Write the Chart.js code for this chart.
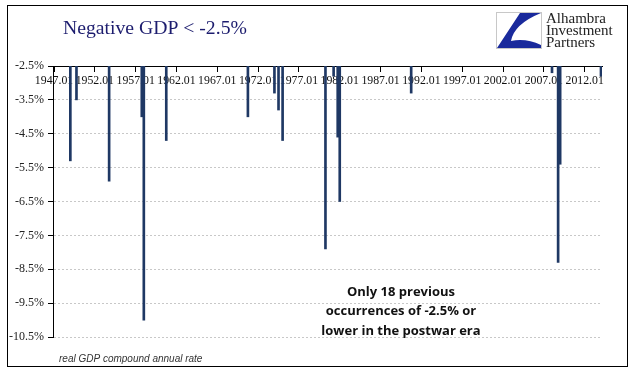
<!DOCTYPE html>
<html>
<head>
<meta charset="utf-8">
<script src="https://cdn.jsdelivr.net/npm/chart.js@4.4.0/dist/chart.umd.min.js"></script>
<style>
  html, body { margin: 0; padding: 0; background: #fff; }
  canvas { display: block; }
</style>
</head>
<body>
<canvas id="gdp" width="640" height="374"></canvas>
<script>
// quarters from 1947.01 to 2014.01, named by the month each starts
const firstYear = 1947;
const lastQuarter = "2014.01";
const quarterMonths = ["01", "04", "07", "10"];

// quarters with real GDP at -2.5% or lower (annual rate)
const negQuarters = ["1949.01", "1949.10", "1953.10", "1957.10", "1958.01", "1960.10",
  "1970.10", "1974.01", "1974.07", "1975.01", "1980.04", "1981.04", "1981.10",
  "1982.01", "1990.10", "2008.01", "2008.10", "2009.01", "2014.01"];
const negValues = [-5.3, -3.5, -5.9, -4.0, -10.0, -4.7,
  -4.0, -3.3, -3.8, -4.7, -7.9, -2.8, -4.6,
  -6.5, -3.3, -2.7, -8.3, -5.4, -2.8];

const tickLabels = ["1947.01", "1952.01", "1957.01", "1962.01", "1967.01", "1972.01",
  "1977.01", "1982.01", "1987.01", "1992.01", "1997.01", "2002.01", "2007.01", "2012.01"];

let quarters = [];
for (let y = firstYear; !quarters.includes(lastQuarter); y++) {
  quarterMonths.forEach((m) => {
    if (!quarters.includes(lastQuarter)) quarters.push(`${y}.${m}`);
  });
}

let values = quarters.map((q) => {
  let i = negQuarters.indexOf(q);
  return i < 0 ? null : negValues[i];
});

const decorations = {
  id: "decorations",
  afterDraw(chart) {
    const ctx = chart.ctx;
    const xs = chart.scales.x;
    const ys = chart.scales.y;
    ctx.save();

    // outer frame
    ctx.strokeStyle = "#000";
    ctx.lineWidth = 1;
    ctx.strokeRect(7.5, 5.5, 620, 361);

    // title
    ctx.fillStyle = "#1c1c6e";
    ctx.font = "19.7px 'Liberation Serif'";
    ctx.textAlign = "left";
    ctx.textBaseline = "alphabetic";
    ctx.fillText("Negative GDP < -2.5%", 63, 34);

    // logo
    ctx.strokeStyle = "#c8c8c8";
    ctx.strokeRect(496.5, 12.5, 45, 36);
    ctx.fillStyle = "#1a2a9c";
    ctx.beginPath();
    ctx.moveTo(520, 13);
    ctx.lineTo(541, 13);
    ctx.quadraticCurveTo(514, 24, 511, 41);
    ctx.quadraticCurveTo(526, 38, 541, 45);
    ctx.lineTo(541, 48);
    ctx.lineTo(497, 48);
    ctx.closePath();
    ctx.fill();
    ctx.fillStyle = "#222";
    ctx.font = "15px 'Liberation Serif'";
    ctx.fillText("Alhambra", 546, 23);
    ctx.fillText("Investment", 546, 35);
    ctx.fillText("Partners", 546, 47);

    // note under the plot
    ctx.fillStyle = "#333";
    ctx.font = "italic 10px 'Liberation Sans'";
    ctx.fillText("real GDP compound annual rate", 59, 362);

    // annotation
    ctx.fillStyle = "#111";
    ctx.font = "bold 13px 'Open Sans'";
    ctx.textAlign = "center";
    ctx.textBaseline = "middle";
    let ax = xs.getPixelForValue(quarters.indexOf("1989.07"));
    let ay = ys.getPixelForValue(-9.18);
    ["Only 18 previous", "occurrences of -2.5% or", "lower in the postwar era"].forEach((line, i) => {
      ctx.fillText(line, ax, ay + i * 19.5);
    });

    ctx.restore();
  },
};

Chart.defaults.font.family = "'Liberation Serif'";
Chart.defaults.color = "#222";

new Chart(document.querySelector("#gdp"), {
  type: "bar",
  data: {
    labels: quarters,
    datasets: [
      {
        data: values,
        backgroundColor: "#1f3864",
        barThickness: 2,
      },
    ],
  },
  options: {
    responsive: false,
    animation: false,
    layout: {
      padding: { left: 8, right: 38, top: 66, bottom: 37 },
    },
    plugins: {
      legend: { display: false },
      tooltip: { enabled: false },
    },
    scales: {
      x: {
        position: { y: -2.5 },
        grid: {
          drawOnChartArea: false,
          offset: false,
          tickLength: 5,
          tickColor: "#000",
        },
        border: { color: "#000", width: 1 },
        ticks: {
          autoSkip: false,
          maxRotation: 0,
          padding: 3,
          font: { size: 11.8 },
          color: "#111",
          callback: function (value) {
            let label = this.getLabelForValue(value);
            return tickLabels.includes(label) ? label : null;
          },
        },
      },
      y: {
        min: -10.5,
        max: -2.5,
        afterFit: (scale) => {
          scale.width = 45;
        },
        grid: {
          color: "#c8c8c8",
          tickColor: "#000",
          tickLength: 5,
        },
        border: { color: "#000", width: 1, dash: [2, 2] },
        ticks: {
          stepSize: 1,
          padding: 4,
          font: { size: 12 },
          color: "#222",
          callback: (v) => v.toFixed(1) + "%",
        },
      },
    },
  },
  plugins: [decorations],
});
</script>
</body>
</html>
